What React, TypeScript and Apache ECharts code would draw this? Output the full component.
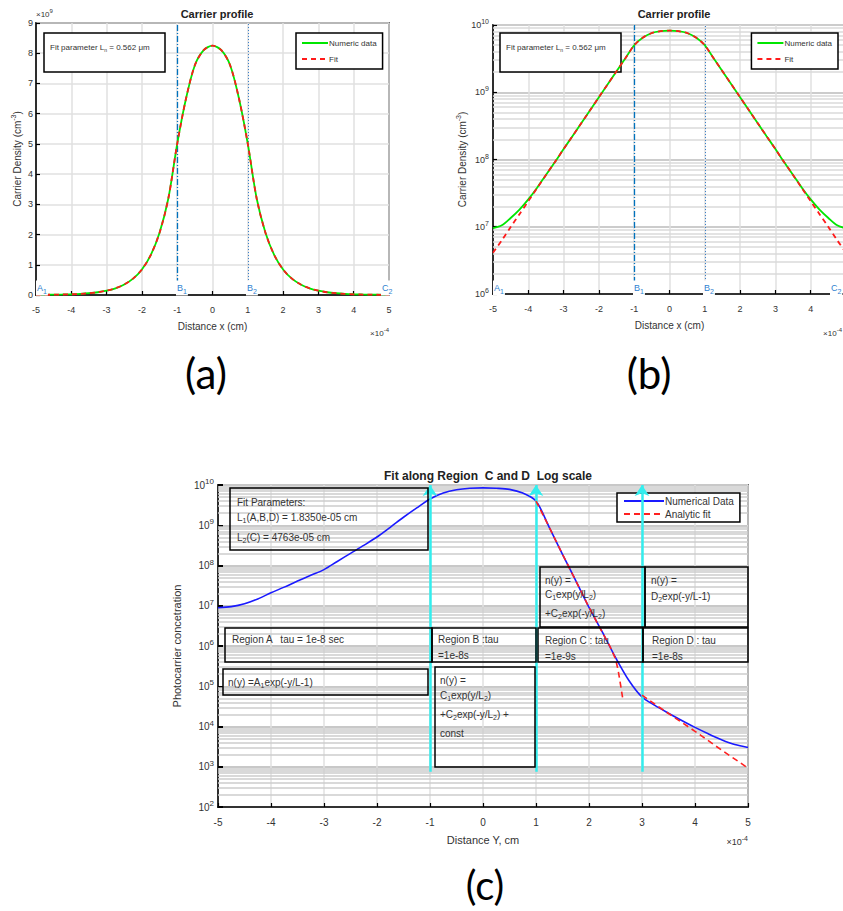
import React, { useEffect, useRef } from 'react';
import * as echarts from 'echarts';

// ---------- data ----------
const xAB = [-5,-4.75,-4.5,-4.25,-4,-3.75,-3.5,-3.25,-3,-2.75,-2.5,-2.25,-2,-1.75,-1.5,-1.25,-1,-0.75,-0.5,-0.25,0,0.25,0.5,0.75,1,1.25,1.5,1.75,2,2.25,2.5,2.75,3,3.25,3.5,3.75,4,4.25,4.5,4.75,5];
const numericAB = [9.5e6,1.05e7,1.35e7,1.8e7,2.55e7,3.8e7,5.9e7,9.1e7,1.43e8,2.22e8,3.47e8,5.4e8,8.45e8,1.32e9,2.06e9,3.2e9,5.0e9,6.5e9,7.6e9,8.1e9,8.25e9,8.1e9,7.6e9,6.5e9,5.0e9,3.2e9,2.06e9,1.32e9,8.45e8,5.4e8,3.47e8,2.22e8,1.43e8,9.1e7,5.9e7,3.8e7,2.55e7,1.8e7,1.35e7,1.05e7,9.5e6];
const fitAB = [4.1e6,6.3e6,9.9e6,1.54e7,2.4e7,3.75e7,5.9e7,9.1e7,1.43e8,2.22e8,3.47e8,5.4e8,8.45e8,1.32e9,2.06e9,3.2e9,5.0e9,6.5e9,7.6e9,8.1e9,8.25e9,8.1e9,7.6e9,6.5e9,5.0e9,3.2e9,2.06e9,1.32e9,8.45e8,5.4e8,3.47e8,2.22e8,1.43e8,9.1e7,5.9e7,3.75e7,2.4e7,1.54e7,9.9e6,6.3e6,4.1e6];
const boundaryAB = [-1, 1];

const xC = [-5,-4.75,-4.5,-4.25,-4,-3.75,-3.5,-3.25,-3,-2.75,-2.5,-2.25,-2,-1.75,-1.5,-1.25,-1,-0.75,-0.5,-0.25,0,0.25,0.5,0.75,1,1.25,1.5,1.75,2,2.25,2.5,2.75,3,3.25,3.5,3.75,4,4.25,4.5,4.75,5];
const numC = [8.9e6,9.5e6,1.12e7,1.48e7,2.1e7,2.9e7,4.1e7,5.7e7,7.9e7,1.26e8,2.0e8,3.16e8,5.1e8,8.9e8,1.58e9,2.7e9,4.5e9,6.3e9,7.6e9,8.3e9,8.5e9,8.3e9,7.8e9,6.3e9,4.0e9,8.9e8,1.9e8,4.2e7,9.1e6,2.24e6,5.2e5,1.41e5,5.4e4,3.3e4,2.14e4,1.41e4,9.5e3,6.6e3,4.7e3,3.55e3,3.0e3];
const xFitC = [1,1.25,1.5,1.75,2,2.25,2.4,2.5,2.55,2.6,2.64];
const fitC = [4.0e9,8.9e8,1.9e8,4.2e7,9.1e6,2.2e6,9.5e5,4.8e5,2.5e5,1.0e5,4.6e4];
const xFitD = [3,3.5,4,4.5,5];
const fitD = [6.0e4,2.1e4,7.6e3,2.6e3,9.3e2];
const regionX = [-1, 1, 3];
const arrowBottom = 750;
const arrowTop = 1e10;

// ---------- helpers ----------
const NARROW = '"Liberation Sans Narrow", "Liberation Sans", Arial, sans-serif';
const SANS = '"Liberation Sans", Arial, sans-serif';
const zip = (xs: number[], ys: number[]) => xs.map((x, i) => [x, ys[i]]);
const minorLines = (lo: number, hi: number) => {
  const out: any[] = [];
  for (let e = lo; e < hi; e++) for (let m = 2; m <= 9; m++) out.push({ yAxis: m * Math.pow(10, e) });
  return out;
};
const supRich = (fs: number) => ({ sup: { fontSize: fs, padding: [0, 0, 7, 0], fontFamily: NARROW, color: '#333' } });
const logFmt = (v: number) => '10{sup|' + Math.round(Math.log10(v)) + '}';

const axisLineStyle = { color: '#000', width: 1.5 };

export default function App() {
  const ref = useRef<HTMLDivElement>(null);
  useEffect(() => {
    const chart = echarts.init(ref.current!, undefined, { renderer: 'svg' });

    const vMarks = () => ({
      silent: true,
      symbol: 'none',
      z: 2,
      label: { show: false },
      data: [
        { xAxis: boundaryAB[0], lineStyle: { color: '#0072BD', width: 1.3, type: [6, 2, 1, 2] } },
        { xAxis: boundaryAB[1], lineStyle: { color: '#3a7fc8', width: 1, type: [1, 2] } },
      ],
    });

    const boxText = (x: number, y: number, text: string, fs: number, font: string, z: number) => ({
      type: 'text', x, y, z,
      style: {
        text, fill: '#333', font: fs + 'px ' + font, align: 'left', verticalAlign: 'middle',
        rich: { sub: { fontSize: fs - 3, padding: [6, 0, 0, 0], fill: '#333', fontFamily: font } },
      },
    });
    const rect = (x: number, y: number, w: number, h: number, fill: string, z: number) => ({
      type: 'rect', z, shape: { x, y, width: w, height: h },
      style: { fill, stroke: '#000', lineWidth: 1.5 },
    });
    const blueLabel = (x: number, y: number, a: string, s: string) => ({
      type: 'text', x, y, z: 6,
      style: {
        text: a + '{sub|' + s + '}', fill: '#2f7fd0', font: '9px ' + NARROW, align: 'left', verticalAlign: 'middle',
        backgroundColor: '#fff', padding: [1, 1, 1, 1],
        rich: { sub: { fontSize: 7, padding: [6, 0, 0, 0], fill: '#2f7fd0' } },
      },
    });
    const supText = (x: number, y: number, base: string, s: string, align: string, fs: number) => ({
      type: 'text', x, y, z: 6,
      style: {
        text: base + '{sup|' + s + '}', fill: '#333', font: fs + 'px ' + NARROW, align, verticalAlign: 'middle',
        rich: { sup: { fontSize: fs - 2, padding: [0, 0, 7, 0], fill: '#333', fontFamily: NARROW } },
      },
    });
    const legendAB = (pos: any) => ({
      data: ['Numeric data', 'Fit'], top: 33, orient: 'vertical', itemWidth: 26, itemHeight: 10, itemGap: 8,
      padding: [6, 6, 6, 5], borderColor: '#000', borderWidth: 1.5, backgroundColor: '#fff', selectedMode: false,
      itemStyle: { opacity: 0 },
      textStyle: { fontSize: 8, fontFamily: NARROW, color: '#333', padding: [0, 0, 0, -4] },
      ...pos,
    });

    const option: any = {
      animation: false,
      backgroundColor: '#fff',
      title: [
        { text: 'Carrier profile', left: 212, top: 3, textAlign: 'center', textStyle: { fontSize: 11, fontWeight: 'bold', fontFamily: NARROW, color: '#222' } },
        { text: 'Carrier profile', left: 669, top: 3, textAlign: 'center', textStyle: { fontSize: 11, fontWeight: 'bold', fontFamily: NARROW, color: '#222' } },
        { text: 'Fit along Region  C and D  Log scale', left: 483, top: 465, textAlign: 'center', textStyle: { fontSize: 12, fontWeight: 'bold', fontFamily: SANS, color: '#222' } },
      ],
      legend: [
        legendAB({ left: 296 }),
        legendAB({ right: 5 }),
        {
          data: ['Numerical Data', 'Analytic fit'], left: 617, top: 493, orient: 'vertical', itemWidth: 40, itemHeight: 10, itemGap: 3,
          padding: [3, 6, 3, 6], borderColor: '#000', borderWidth: 1.5, backgroundColor: '#fff', selectedMode: false,
          itemStyle: { opacity: 0 },
          textStyle: { fontSize: 10, fontFamily: SANS, color: '#333', padding: [0, 0, 0, -4] },
        },
      ],
      grid: [
        { left: 36, top: 23, width: 353, height: 272, show: true, borderColor: '#000', borderWidth: 1.5, backgroundColor: '#fff', containLabel: false, outerBoundsMode: 'none' },
        { left: 493, top: 25, width: 353, height: 269, show: true, borderColor: '#000', borderWidth: 1.5, backgroundColor: '#fff', containLabel: false, outerBoundsMode: 'none' },
        { left: 218, top: 485, width: 530, height: 322, show: true, borderColor: '#000', borderWidth: 1.5, backgroundColor: '#fff', containLabel: false, outerBoundsMode: 'none' },
      ],
      xAxis: [0, 1, 2].map((g) => ({
        gridIndex: g, type: 'value', min: -5, max: 5, interval: 1,
        name: g === 2 ? 'Distance Y, cm' : 'Distance x (cm)',
        nameLocation: 'middle', nameGap: g === 2 ? 27 : 26,
        nameTextStyle: g === 2
          ? { fontSize: 11, fontFamily: SANS, color: '#333' }
          : { fontSize: 10, fontFamily: NARROW, color: '#333' },
        axisLine: { onZero: false, lineStyle: axisLineStyle },
        axisTick: { inside: true, length: 4, lineStyle: { color: '#000', width: 1.2 } },
        axisLabel: { margin: 10, fontSize: g === 2 ? 10 : 9, fontFamily: NARROW, color: '#333', showMaxLabel: g !== 1 },
        splitLine: { show: true, lineStyle: { color: '#e0e0e0', width: 1.5 } },
      })),
      yAxis: [
        {
          gridIndex: 0, type: 'value', min: 0, max: 9e9, interval: 1e9,
          name: 'Carrier Density (cm{sup|-3})', nameLocation: 'middle', nameRotate: 90, nameGap: 12,
          nameTextStyle: { fontSize: 10, fontFamily: NARROW, color: '#333', rich: supRich(7) },
          axisLine: { onZero: false, lineStyle: axisLineStyle },
          axisTick: { inside: true, length: 4, lineStyle: { color: '#000', width: 1.2 } },
          axisLabel: { margin: 3, fontSize: 9, fontFamily: NARROW, color: '#333', formatter: (v: number) => String(Math.round(v / 1e9)) },
          splitLine: { show: true, lineStyle: { color: '#e0e0e0', width: 1.5 } },
        },
        {
          gridIndex: 1, type: 'log', logBase: 10, min: 1e6, max: 1e10, splitNumber: 10,
          name: 'Carrier Density (cm{sup|-3})', nameLocation: 'middle', nameRotate: 90, nameGap: 24,
          nameTextStyle: { fontSize: 10, fontFamily: NARROW, color: '#333', rich: supRich(7) },
          axisLine: { onZero: false, lineStyle: axisLineStyle },
          axisTick: { inside: true, length: 4, lineStyle: { color: '#000', width: 1.2 } },
          axisLabel: { margin: 4, fontSize: 9, fontFamily: NARROW, color: '#333', formatter: logFmt, rich: supRich(7) },
          splitLine: { show: true, lineStyle: { color: '#cccccc', width: 2 } },
        },
        {
          gridIndex: 2, type: 'log', logBase: 10, min: 1e2, max: 1e10, splitNumber: 10,
          name: 'Photocarrier concetration', nameLocation: 'middle', nameRotate: 90, nameGap: 36,
          nameTextStyle: { fontSize: 11, fontFamily: SANS, color: '#333' },
          axisLine: { onZero: false, lineStyle: axisLineStyle },
          axisTick: { inside: true, length: 5, lineStyle: { color: '#000', width: 2 } },
          axisLabel: { margin: 4, fontSize: 10, fontFamily: NARROW, color: '#333', formatter: logFmt, rich: supRich(8) },
          splitLine: { show: true, lineStyle: { color: '#c8c8c8', width: 2 } },
        },
      ],
      series: [
        // ---- (a)
        {
          name: 'Numeric data', type: 'line', xAxisIndex: 0, yAxisIndex: 0, data: zip(xAB, numericAB),
          symbol: 'none', smooth: 0.3, z: 3, color: '#00e600', lineStyle: { color: '#00e600', width: 1.8 },
          markLine: vMarks(),
        },
        {
          name: 'Fit', type: 'line', xAxisIndex: 0, yAxisIndex: 0, data: zip(xAB, fitAB),
          symbol: 'none', smooth: 0.3, z: 4, color: '#ff1a1a', lineStyle: { color: '#ff1a1a', width: 1.8, type: [5, 4] },
        },
        // ---- (b)
        {
          name: 'minor-b', type: 'line', xAxisIndex: 1, yAxisIndex: 1, data: [], z: 1,
          markLine: { silent: true, z: 1, symbol: 'none', label: { show: false }, lineStyle: { color: '#dadada', width: 1.5, type: 'solid' }, data: minorLines(6, 10) },
        },
        {
          name: 'Numeric data', type: 'line', xAxisIndex: 1, yAxisIndex: 1, data: zip(xAB, numericAB),
          symbol: 'none', smooth: 0.3, z: 3, color: '#00e600', lineStyle: { color: '#00e600', width: 1.8 },
          markLine: vMarks(),
        },
        {
          name: 'Fit', type: 'line', xAxisIndex: 1, yAxisIndex: 1, data: zip(xAB, fitAB),
          symbol: 'none', smooth: 0.3, z: 4, color: '#ff1a1a', lineStyle: { color: '#ff1a1a', width: 1.8, type: [5, 4] },
        },
        // ---- (c)
        {
          name: 'minor-c', type: 'line', xAxisIndex: 2, yAxisIndex: 2, data: [], z: 1,
          markLine: { silent: true, z: 1, symbol: 'none', label: { show: false }, lineStyle: { color: '#cdcdcd', width: 1.5, type: 'solid' }, data: minorLines(2, 10) },
        },
        {
          name: 'arrows-c', type: 'line', xAxisIndex: 2, yAxisIndex: 2, data: [], z: 4,
          markLine: {
            silent: true, z: 4, symbol: ['none', 'arrow'], symbolSize: 11, label: { show: false },
            lineStyle: { color: '#33eeee', width: 2.5, type: 'solid' },
            data: regionX.map((x) => [{ coord: [x, arrowBottom] }, { coord: [x, arrowTop] }]),
          },
        },
        {
          name: 'Numerical Data', type: 'line', xAxisIndex: 2, yAxisIndex: 2, data: zip(xC, numC),
          symbol: 'none', smooth: 0.3, z: 3, color: '#1a1aff', lineStyle: { color: '#1a1aff', width: 1.6 },
        },
        {
          name: 'Analytic fit', type: 'line', xAxisIndex: 2, yAxisIndex: 2, data: zip(xFitC, fitC),
          symbol: 'none', z: 4, color: '#ff2020', lineStyle: { color: '#ff2020', width: 1.6, type: [6, 4] },
        },
        {
          name: 'Analytic fit', type: 'line', xAxisIndex: 2, yAxisIndex: 2, data: zip(xFitD, fitD),
          symbol: 'none', z: 4, color: '#ff2020', lineStyle: { color: '#ff2020', width: 1.6, type: [6, 4] },
        },
      ],
      graphic: [
        // (a) annotations
        rect(44, 33, 121, 39, '#fff', 2),
        boxText(50, 47, 'Fit parameter L{sub|n} = 0.562 μm', 8, NARROW, 3),
        supText(36, 14, '×10', '9', 'left', 8),
        supText(389, 333, '×10', '-4', 'right', 8),
        blueLabel(36, 288, 'A', '1'),
        blueLabel(176, 288, 'B', '1'),
        blueLabel(246, 288, 'B', '2'),
        blueLabel(381, 288, 'C', '2'),
        // (b) annotations
        rect(500, 33, 121, 39, '#fff', 2),
        boxText(506, 47, 'Fit parameter L{sub|n} = 0.562 μm', 8, NARROW, 3),
        supText(842, 333, '×10', '-4', 'right', 8),
        blueLabel(493, 288, 'A', '1'),
        blueLabel(633, 288, 'B', '1'),
        blueLabel(703, 288, 'B', '2'),
        blueLabel(830, 288, 'C', '2'),
        // (c) annotation boxes
        rect(230, 488, 198, 62, 'none', 5),
        boxText(237, 502, 'Fit Parameters:', 10, SANS, 5),
        boxText(237, 517, 'L{sub|1}(A,B,D) = 1.8350e-05 cm', 10, SANS, 5),
        boxText(237, 537, 'L{sub|2}(C) = 4763e-05 cm', 10, SANS, 5),
        rect(540, 567, 105, 60, 'none', 5),
        boxText(545, 580, 'n(y) =', 10, SANS, 5),
        boxText(545, 594, 'C{sub|1}exp(y/L{sub|2})', 10, SANS, 5),
        boxText(545, 613, '+C{sub|2}exp(-y/L{sub|2})', 10, SANS, 5),
        rect(645, 567, 103, 60, 'none', 5),
        boxText(651, 580, 'n(y) =', 10, SANS, 5),
        boxText(651, 596, 'D{sub|2}exp(-y/L-1)', 10, SANS, 5),
        rect(225, 628, 207, 34, 'none', 5),
        boxText(232, 639, 'Region A   tau = 1e-8 sec', 10, SANS, 5),
        rect(432, 628, 104, 34, 'none', 5),
        boxText(438, 639, 'Region B :tau', 10, SANS, 5),
        boxText(438, 655, '=1e-8s', 10, SANS, 5),
        rect(538, 628, 105, 34, 'none', 5),
        boxText(545, 640, 'Region C : tau', 10, SANS, 5),
        boxText(545, 656, '=1e-9s', 10, SANS, 5),
        rect(643, 628, 105, 34, 'none', 5),
        boxText(652, 640, 'Region D : tau', 10, SANS, 5),
        boxText(652, 656, '=1e-8s', 10, SANS, 5),
        rect(223, 669, 205, 26, 'none', 5),
        boxText(228, 682, 'n(y) =A{sub|1}exp(-y/L-1)', 10, SANS, 5),
        rect(435, 667, 100, 100, 'none', 5),
        boxText(440, 680, 'n(y) =', 10, SANS, 5),
        boxText(440, 695, 'C{sub|1}exp(y/L{sub|2})', 10, SANS, 5),
        boxText(440, 714, '+C{sub|2}exp(-y/L{sub|2}) +', 10, SANS, 5),
        boxText(440, 733, 'const', 10, SANS, 5),
        supText(748, 842, '×10', '-4', 'right', 9),
        // panel captions
        { type: 'text', x: 206, y: 373, z: 6, style: { text: '(a)', fill: '#000', font: '42px Lato, "Open Sans", sans-serif', align: 'center', verticalAlign: 'middle' } },
        { type: 'text', x: 649, y: 373, z: 6, style: { text: '(b)', fill: '#000', font: '42px Lato, "Open Sans", sans-serif', align: 'center', verticalAlign: 'middle' } },
        { type: 'text', x: 485, y: 885, z: 6, style: { text: '(c)', fill: '#000', font: '40px Lato, "Open Sans", sans-serif', align: 'center', verticalAlign: 'middle' } },
      ],
    };
    chart.setOption(option);
    return () => chart.dispose();
  }, []);
  return <div ref={ref} style={{ position: 'absolute', left: 0, top: 0, width: 843, height: 911 }} />;
}
